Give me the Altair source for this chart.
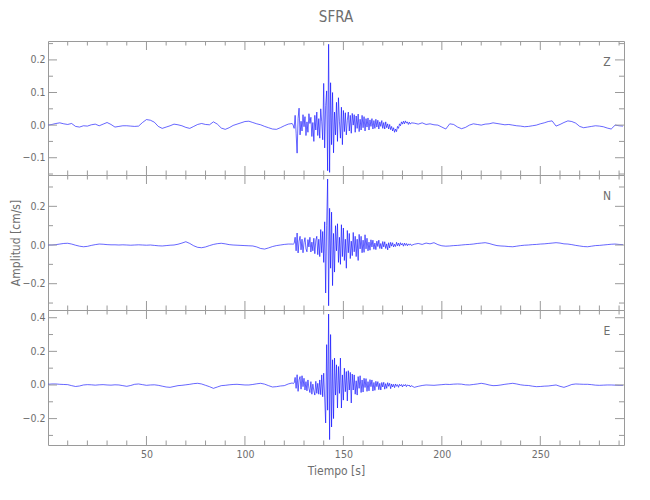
import altair as alt
import numpy as np
import pandas as pd

# ---------------- data ----------------
T_MIN, T_MAX = 0.0, 292.5
PRE_START, PRE_STEP = 0.0, 2.0      # quiet part before the event
ACT_START, ACT_STEP = 124.5, 0.5    # strong-motion part
POST_START, POST_STEP = 186.0, 2.0  # coda / quiet part after the event

z_pre = [0.000, 0.002, 0.005, 0.007, 0.004, 0.002, 0.005, -0.004, -0.006, -0.002,
         -0.003, 0.001, 0.003, -0.002, 0.003, 0.008, 0.002, -0.006, -0.004, -0.002,
         -0.002, -0.003, -0.004, -0.003, 0.008, 0.017, 0.015, 0.009, -0.004, -0.010,
         -0.006, -0.002, 0.003, 0.001, -0.002, -0.007, -0.010, -0.004, 0.002, 0.005,
         0.002, 0.001, 0.010, 0.003, -0.009, -0.013, -0.008, -0.001, 0.003, 0.007,
         0.011, 0.012, 0.008, 0.004, 0.001, -0.004, -0.008, -0.012, -0.013, -0.008,
         -0.002, 0.003, 0.005]
z_act = [0.000, -0.010, 0.030, -0.025, -0.086, 0.020, 0.052, -0.030, 0.012, -0.018,
         0.032, -0.005, 0.026, -0.032, 0.010, -0.022, 0.035, 0.005, 0.024, -0.035,
         0.008, -0.050, 0.030, -0.015, 0.040, -0.032, 0.020, -0.040, 0.050, 0.010,
         -0.045, 0.128, -0.070, 0.060, 0.105, -0.140, 0.248, -0.145, 0.130, -0.060,
         0.100, -0.085, 0.040, -0.030, 0.070, -0.050, 0.084, 0.010, -0.040, 0.055,
         -0.060, 0.045, -0.020, 0.038, -0.030, 0.015, 0.040, -0.018, 0.030, -0.025,
         0.036, 0.000, 0.032, -0.022, 0.028, -0.010, 0.034, -0.020, 0.018, -0.015,
         0.030, -0.008, 0.026, -0.018, 0.020, -0.006, 0.022, -0.015, 0.016, -0.004,
         0.020, -0.012, 0.014, -0.010, 0.018, -0.006, 0.015, -0.012, 0.010, -0.004,
         0.014, -0.010, 0.008, -0.012, 0.010, -0.008, 0.004, -0.012, 0.002, -0.014,
         -0.004, -0.018, -0.008, -0.022, -0.012, -0.020, -0.004, -0.010, 0.004, -0.002,
         0.010, 0.003, 0.012, 0.004, 0.013, 0.006, 0.010, 0.002, 0.009, 0.003,
         0.007]
z_post = [0.006, 0.003, 0.007, 0.002, 0.004, 0.001, 0.000, -0.006, -0.012, 0.004,
          0.002, -0.006, -0.011, -0.007, 0.000, 0.004, 0.002, 0.000, 0.003, 0.004,
          0.007, 0.005, 0.003, 0.001, 0.002, 0.000, -0.002, -0.003, -0.005, -0.004,
          -0.002, 0.000, 0.004, 0.007, 0.011, 0.013, -0.003, 0.002, 0.008, 0.013,
          0.011, 0.006, -0.004, -0.008, -0.006, -0.004, -0.002, -0.003, -0.005, -0.009,
          -0.012, 0.000, -0.002, -0.003]

n_pre = [0.000, 0.000, 0.002, 0.005, 0.008, 0.009, 0.005, -0.001, -0.006, -0.009,
         -0.007, -0.002, 0.002, 0.005, 0.004, 0.002, 0.001, 0.001, 0.000, 0.001,
         0.000, -0.001, 0.000, 0.001, 0.000, -0.001, 0.000, -0.002, -0.004, -0.005,
         -0.003, -0.001, 0.000, 0.004, 0.010, 0.017, 0.008, -0.004, -0.012, -0.014,
         -0.010, -0.003, 0.003, 0.007, 0.009, 0.006, 0.002, 0.000, -0.001, -0.002,
         -0.003, -0.004, -0.005, -0.010, -0.018, -0.021, -0.015, -0.008, -0.003, 0.000,
         0.003, 0.005, 0.005]
n_act = [0.004, 0.008, 0.040, -0.030, 0.062, -0.041, 0.020, 0.045, -0.025, 0.030,
         -0.040, 0.012, 0.038, -0.020, -0.035, 0.028, -0.010, 0.040, -0.036, 0.015,
         -0.030, 0.035, -0.045, 0.025, 0.045, -0.050, 0.030, -0.060, 0.080, -0.040,
         0.070, -0.090, 0.120, -0.248, 0.100, 0.341, -0.314, 0.190, -0.120, 0.170,
         -0.210, 0.060, -0.140, 0.100, -0.030, 0.110, -0.090, 0.040, -0.100, 0.105,
         -0.060, 0.088, -0.080, 0.030, -0.120, 0.075, -0.040, 0.060, -0.070, 0.020,
         -0.055, 0.065, -0.035, 0.045, -0.060, 0.030, -0.080, 0.055, -0.020, 0.045,
         -0.040, 0.025, -0.038, 0.053, -0.020, 0.035, -0.030, 0.015, -0.027, 0.027,
         -0.010, 0.025, -0.022, 0.010, -0.024, 0.020, -0.008, 0.025, -0.018, 0.008,
         -0.020, 0.018, -0.010, 0.017, -0.018, 0.006, -0.025, 0.012, -0.015, 0.014,
         -0.006, 0.012, -0.010, 0.004, -0.008, 0.014, -0.004, 0.010, -0.006, 0.012,
         0.000, 0.008, -0.006, 0.010, -0.002, 0.008, -0.004, 0.006, -0.001, 0.006,
         -0.002]
n_post = [0.004, 0.008, 0.003, 0.010, 0.006, 0.012, 0.002, -0.004, -0.006, -0.005,
          -0.003, -0.002, 0.000, 0.002, 0.003, 0.005, 0.008, 0.010, 0.012, 0.008,
          0.002, -0.003, -0.005, -0.006, -0.008, -0.009, -0.006, -0.003, -0.001, 0.000,
          0.002, 0.003, 0.005, 0.006, 0.008, 0.010, 0.012, 0.010, 0.006, 0.005,
          0.002, -0.002, -0.005, -0.008, -0.009, -0.006, -0.003, -0.002, 0.000, 0.002,
          0.004, 0.005, 0.003, 0.002]

e_pre = [0.004, 0.006, 0.006, 0.004, 0.003, 0.002, -0.004, -0.009, -0.006, 0.000,
         0.002, 0.001, -0.001, 0.001, 0.002, 0.000, -0.001, 0.001, 0.000, -0.004,
         -0.008, -0.003, 0.004, 0.006, 0.002, -0.002, 0.000, 0.001, -0.002, -0.007,
         -0.012, -0.014, -0.009, -0.004, -0.002, 0.001, 0.004, 0.008, 0.010, 0.006,
         -0.002, -0.010, -0.020, -0.012, -0.004, -0.002, 0.001, 0.003, 0.004, 0.002,
         0.000, 0.000, 0.003, 0.007, 0.010, 0.005, -0.004, -0.012, -0.010, -0.006,
         -0.004, 0.006, 0.012]
e_act = [0.008, 0.012, 0.045, -0.020, 0.061, -0.038, 0.030, 0.050, -0.025, 0.055,
         -0.010, 0.040, -0.030, 0.020, -0.035, 0.030, -0.020, -0.045, 0.020, -0.055,
         0.005, -0.035, -0.060, 0.022, -0.050, 0.010, -0.055, 0.030, -0.058, 0.060,
         -0.070, 0.070, -0.077, -0.226, 0.240, -0.150, 0.422, -0.325, 0.300, -0.250,
         0.150, -0.200, 0.160, -0.060, 0.120, -0.137, 0.110, -0.050, 0.160, -0.137,
         0.060, -0.090, 0.100, -0.040, 0.080, -0.095, 0.085, -0.030, 0.075, -0.107,
         0.065, -0.030, 0.060, -0.055, 0.025, -0.060, 0.050, -0.020, 0.055, -0.045,
         0.030, -0.042, 0.040, -0.015, 0.038, -0.038, 0.020, -0.035, 0.032, -0.010,
         0.030, -0.036, 0.015, -0.032, 0.022, -0.010, 0.020, -0.028, 0.010, -0.030,
         0.015, -0.012, 0.016, -0.025, 0.008, -0.020, 0.014, -0.008, 0.010, -0.022,
         0.006, -0.012, 0.004, -0.016, 0.006, -0.008, 0.002, -0.014, 0.004, -0.006,
         0.003, -0.012, 0.002, -0.006, 0.003, -0.010, 0.001, -0.006, 0.000, -0.012,
         -0.004]
e_post = [-0.014, -0.008, -0.003, 0.000, -0.001, -0.002, 0.000, 0.002, 0.004, 0.003,
          0.005, 0.006, 0.005, 0.001, 0.000, 0.003, 0.006, 0.010, 0.006, 0.000,
          -0.004, -0.003, 0.000, 0.004, 0.007, 0.010, 0.006, 0.001, -0.002, -0.003,
          -0.007, -0.010, -0.009, -0.007, -0.006, -0.003, 0.000, -0.008, -0.014, -0.006,
          0.003, 0.006, 0.005, 0.004, 0.004, 0.002, -0.001, -0.002, -0.001, 0.000,
          0.000, -0.001, -0.002, -0.002]

x_labels = [50, 100, 150, 200, 250]
x_minor = [10, 20, 30, 40, 60, 70, 80, 90, 110, 120, 130, 140, 160, 170, 180, 190,
           210, 220, 230, 240, 260, 270, 280, 290]

z_domain, z_major, z_minor = [-0.153, 0.258], [-0.1, 0.0, 0.1, 0.2], [-0.15, -0.05, 0.05, 0.15, 0.25]
n_domain, n_major, n_minor = [-0.336, 0.362], [-0.2, 0.0, 0.2], [-0.3, -0.1, 0.1, 0.3]
e_domain, e_major, e_minor = [-0.357, 0.446], [-0.2, 0.0, 0.2, 0.4], [-0.3, -0.1, 0.1, 0.3]

# ---------------- styling ----------------
W = 576
FONT = "DejaVu Sans Condensed, Liberation Sans Narrow, DejaVu Sans, sans-serif"
GRAY_TXT = "#6e6e6e"
GRAY_LINE = "#9a9a9a"
LINE_BLUE = "#0000ff"
MAJ, MIN = 9, 4.5


def trace_frame(pre, act, post):
    t = np.concatenate([
        PRE_START + PRE_STEP * np.arange(len(pre)),
        ACT_START + ACT_STEP * np.arange(len(act)),
        POST_START + POST_STEP * np.arange(len(post)),
    ])
    return pd.DataFrame({"t": t, "v": list(pre) + list(act) + list(post)})


def panel(label, pre, act, post, domain, major, minor, H, bottom, ytitle):
    xs = alt.Scale(domain=[T_MIN, T_MAX], nice=False, zero=False)
    ys = alt.Scale(domain=domain, nice=False, zero=False)
    if bottom:
        xaxis = alt.Axis(values=x_labels, title="Tiempo [s]", ticks=False, domain=False,
                         grid=False, labelPadding=4, titlePadding=6, labelFlush=False)
    else:
        xaxis = alt.Axis(values=x_labels, title=None, ticks=False, domain=False,
                         grid=False, labels=False)
    if ytitle:
        yaxis = alt.Axis(values=major, format=".1f", title=ytitle, ticks=False, domain=False,
                         grid=False, labelPadding=3, titleX=-33, titleY=H / 2,
                         titleAlign="center", titleBaseline="middle", titleAngle=270)
    else:
        yaxis = alt.Axis(values=major, format=".1f", title=None, ticks=False, domain=False,
                         grid=False, labelPadding=3)

    X = lambda: alt.X("t:Q", scale=xs, axis=xaxis)
    Y = lambda: alt.Y("v:Q", scale=ys, axis=yaxis)

    line = alt.Chart(trace_frame(pre, act, post)).mark_line(
        color=LINE_BLUE, strokeWidth=0.6, clip=True
    ).encode(x=X(), y=Y())

    layers = [line]
    xt_maj = pd.DataFrame({"t": x_labels})
    xt_min = pd.DataFrame({"t": x_minor})
    for df, L in ((xt_maj, MAJ), (xt_min, MIN)):
        layers.append(alt.Chart(df).mark_rule(color=GRAY_LINE, strokeWidth=1).encode(
            x=X(), y=alt.value(0), y2=alt.value(L)))
        layers.append(alt.Chart(df).mark_rule(color=GRAY_LINE, strokeWidth=1).encode(
            x=X(), y=alt.value(H), y2=alt.value(H - L)))
    yt_maj = pd.DataFrame({"v": major})
    yt_min = pd.DataFrame({"v": minor})
    for df, L in ((yt_maj, MAJ), (yt_min, MIN + 0.5)):
        layers.append(alt.Chart(df).mark_rule(color=GRAY_LINE, strokeWidth=1).encode(
            y=Y(), x=alt.value(0), x2=alt.value(L)))
        layers.append(alt.Chart(df).mark_rule(color=GRAY_LINE, strokeWidth=1).encode(
            y=Y(), x=alt.value(W), x2=alt.value(W - L)))

    layers.append(alt.Chart(pd.DataFrame({"label": [label]})).mark_text(
        font=FONT, fontSize=12, color=GRAY_TXT, align="center", baseline="middle"
    ).encode(text="label:N", x=alt.value(W - 17), y=alt.value(21)))

    return alt.layer(*layers).properties(width=W, height=H)


pz = panel("Z", z_pre, z_act, z_post, z_domain, z_major, z_minor, 134, False, None)
pn = panel("N", n_pre, n_act, n_post, n_domain, n_major, n_minor, 135, False, "Amplitud [cm/s]")
pe = panel("E", e_pre, e_act, e_post, e_domain, e_major, e_minor, 135, True, None)

chart = alt.vconcat(pz, pn, pe, spacing=0, bounds="flush").properties(
    title=alt.TitleParams("SFRA", font=FONT, fontSize=15, fontWeight="normal",
                          color=GRAY_TXT, anchor="middle", frame="group", offset=15),
    padding={"left": 0, "top": 2, "right": 5, "bottom": 5},
).configure_view(
    stroke=GRAY_LINE, strokeWidth=1
).configure_axis(
    labelFont=FONT, labelFontSize=10.5, labelColor=GRAY_TXT,
    titleFont=FONT, titleFontSize=12, titleColor=GRAY_TXT, titleFontWeight="normal",
)

chart.save("out.html", embed_options={"renderer": "svg", "actions": False})
